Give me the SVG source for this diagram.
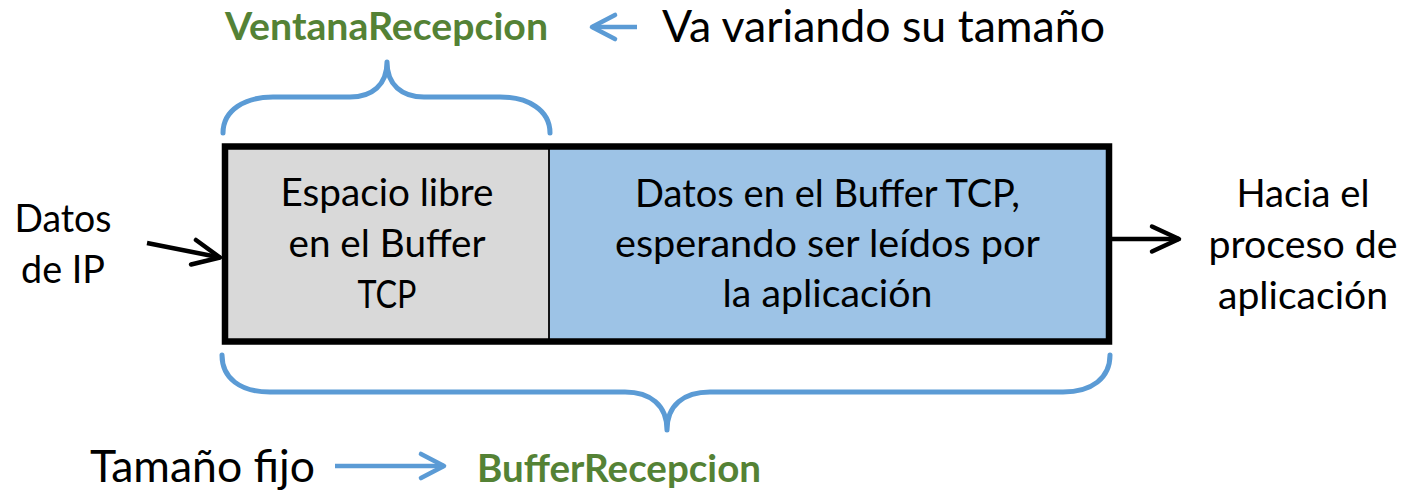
<svg xmlns="http://www.w3.org/2000/svg" width="1402" height="491" viewBox="0 0 1402 491">
  <style>
    .t { font-family: Lato, "Open Sans", "Liberation Sans", sans-serif; font-size: 38.5px; fill: #000; }
    .big { font-size: 43.5px; }
    .g { font-weight: 700; fill: #548235; font-size: 38.5px; }
    .m { text-anchor: middle; }
    .brace { fill: none; stroke: #5b9bd5; stroke-width: 5; stroke-linecap: round; stroke-linejoin: round; }
    .ab { fill: none; stroke: #000; stroke-width: 4.5; }
    .al { fill: none; stroke: #5b9bd5; stroke-width: 4.6; }
  </style>
  <defs>
    <marker id="ahBlack" markerUnits="userSpaceOnUse" viewBox="-32 -18 38 36" markerWidth="38" markerHeight="36" refX="0" refY="0" orient="auto">
      <path d="M-27,-12.5 L0,0 L-27,12.5" fill="none" stroke="#000" stroke-width="4.5" stroke-linecap="round" stroke-linejoin="round"/>
    </marker>
    <marker id="ahBlue" markerUnits="userSpaceOnUse" viewBox="-30 -18 36 36" markerWidth="36" markerHeight="36" refX="0" refY="0" orient="auto">
      <path d="M-23,-12 L0,0 L-23,12" fill="none" stroke="#5b9bd5" stroke-width="4.6" stroke-linecap="round" stroke-linejoin="round"/>
    </marker>
  </defs>
  <rect width="1402" height="491" fill="#fff"/>

  <g id="cell-free">
    <rect x="225" y="146.5" width="324" height="195" fill="#d9d9d9"/>
    <text class="t m" x="387" y="206" textLength="213" lengthAdjust="spacingAndGlyphs">Espacio libre</text>
    <text class="t m" x="387" y="257" textLength="197" lengthAdjust="spacingAndGlyphs">en el Buffer</text>
    <text class="t m" x="387" y="308" textLength="59" lengthAdjust="spacingAndGlyphs">TCP</text>
  </g>

  <g id="cell-data">
    <rect x="549" y="146.5" width="560" height="195" fill="#9dc3e6"/>
    <text class="t m" x="827.5" y="207" textLength="385" lengthAdjust="spacingAndGlyphs">Datos en el Buffer TCP,</text>
    <text class="t m" x="827.5" y="257" textLength="425" lengthAdjust="spacingAndGlyphs">esperando ser leídos por</text>
    <text class="t m" x="827.5" y="307" textLength="210" lengthAdjust="spacingAndGlyphs">la aplicación</text>
  </g>

  <g id="buffer-frame">
    <line x1="549" y1="146.5" x2="549" y2="341.5" stroke="#000" stroke-width="1.8"/>
    <rect x="225" y="146.5" width="884" height="195" fill="none" stroke="#000" stroke-width="6.5"/>
  </g>

  <g id="label-datos-ip">
    <text class="t m" x="63" y="232" textLength="97" lengthAdjust="spacingAndGlyphs">Datos</text>
    <text class="t m" x="63" y="283" textLength="84" lengthAdjust="spacingAndGlyphs">de IP</text>
  </g>

  <g id="label-hacia">
    <text class="t m" x="1303" y="207" textLength="133" lengthAdjust="spacingAndGlyphs">Hacia el</text>
    <text class="t m" x="1303" y="258" textLength="189" lengthAdjust="spacingAndGlyphs">proceso de</text>
    <text class="t m" x="1303" y="309" textLength="170" lengthAdjust="spacingAndGlyphs">aplicación</text>
  </g>

  <g id="label-ventana">
    <text class="t g m" x="386.5" y="40" textLength="323" lengthAdjust="spacingAndGlyphs">VentanaRecepcion</text>
  </g>

  <g id="label-va-variando">
    <text class="t big" x="662" y="42" textLength="443" lengthAdjust="spacingAndGlyphs">Va variando su tamaño</text>
  </g>

  <g id="label-tamano">
    <text class="t big" x="90" y="482" textLength="225" lengthAdjust="spacingAndGlyphs">Tamaño fijo</text>
  </g>

  <g id="label-buffer">
    <text class="t g m" x="619" y="482" textLength="284" lengthAdjust="spacingAndGlyphs">BufferRecepcion</text>
  </g>

  <g id="brace-top">
    <path class="brace" d="M223,133 C223,110 245,97 273,97 L350,97 C372,97 387,85 387,62 C387,85 402,97 424,97 L500,97 C528,97 550,110 550,133"/>
  </g>

  <g id="brace-bottom">
    <path class="brace" d="M222,355 C222,378 240,392 270,392 L625,392 C650,392 667,405 667,430 C667,405 684,392 710,392 L1063,392 C1092,392 1110,378 1110,355"/>
  </g>

  <g id="connectors">
    <line class="al" x1="637" y1="27" x2="592" y2="27" marker-end="url(#ahBlue)"/>
    <line class="al" x1="335" y1="466" x2="444" y2="466" marker-end="url(#ahBlue)"/>
    <line class="ab" x1="147" y1="243" x2="220" y2="257.5" marker-end="url(#ahBlack)"/>
    <line class="ab" x1="1112" y1="239" x2="1179" y2="239" marker-end="url(#ahBlack)"/>
  </g>
</svg>
